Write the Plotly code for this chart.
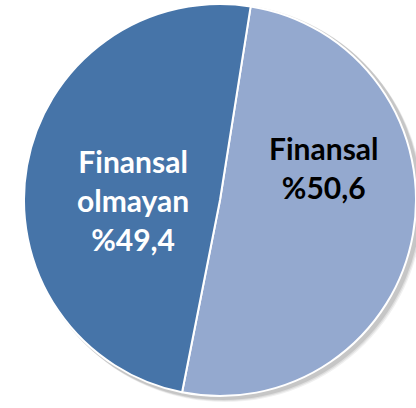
import plotly.graph_objects as go

# Share of the two groups (percent)
categories = ["Finansal", "Finansal olmayan"]
shares = [50.6, 49.4]
slice_colors = ["#94A9CF", "#4674A8"]
label_colors = ["#000000", "#FFFFFF"]

W, H = 416, 408
cx, cy, r = 221, 200, 197  # pie centre and radius in pixels

fig = go.Figure()
fig.add_trace(go.Pie(
    labels=categories,
    values=shares,
    sort=False,
    direction="clockwise",
    rotation=9,
    marker=dict(colors=slice_colors, line=dict(color="white", width=2)),
    textinfo="none",
    hoverinfo="label+percent",
    showlegend=False,
    domain=dict(x=[(cx - r) / W, min(1.0, (cx + r) / W)],
                y=[1 - (cy + r) / H, 1 - (cy - r) / H]),
))

def fmt(v):
    return "%" + f"{v:.1f}".replace(".", ",")

# Soft drop shadow behind the pie
for off, alpha in [(4, 0.06), (3, 0.08), (2, 0.10)]:
    fig.add_shape(type="circle", xref="paper", yref="paper", layer="below",
                  x0=(cx - r + off - 1) / W, x1=(cx + r + off + 1) / W,
                  y0=1 - (cy + r + off + 1) / H, y1=1 - (cy - r + off - 1) / H,
                  line=dict(width=0), fillcolor=f"rgba(0,0,0,{alpha})")

label_pos = {"Finansal": (324, 167), "Finansal olmayan": (133, 200)}
for cat, val, col in zip(categories, shares, label_colors):
    words = cat.split(" ")
    text = "<br>".join(words + [fmt(val)])
    x, y = label_pos[cat]
    fig.add_annotation(x=x / W, y=1 - y / H, xref="paper", yref="paper",
                       text=text, showarrow=False, align="center",
                       xanchor="center", yanchor="middle",
                       font=dict(family="Lato", size=30, color=col, weight="bold"))

fig.update_layout(width=W, height=H, margin=dict(l=0, r=0, t=0, b=0),
                  paper_bgcolor="white", plot_bgcolor="white")
fig.write_html("out.html")
